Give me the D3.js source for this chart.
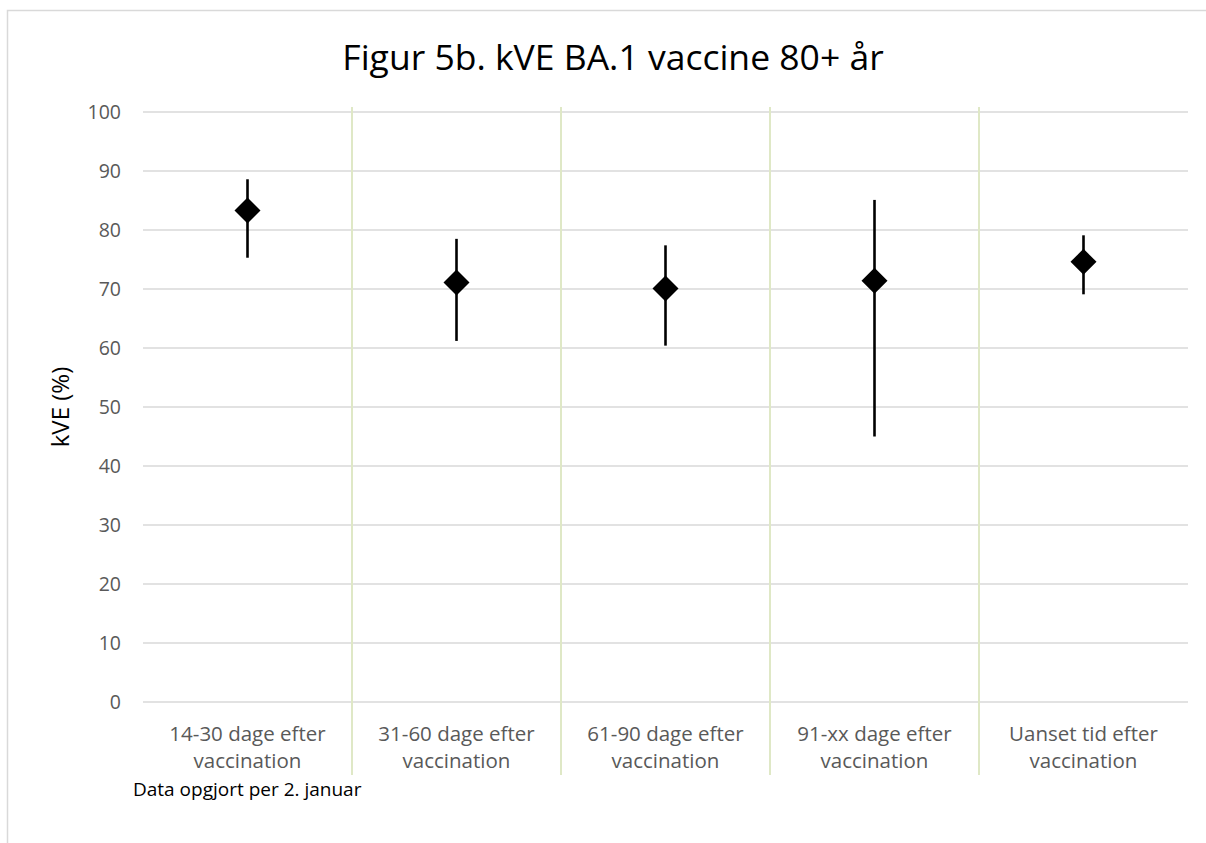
<!DOCTYPE html>
<html>
<head>
<meta charset="utf-8">
<script src="https://cdn.jsdelivr.net/npm/d3@7"></script>
<style>
  body { margin: 0; background: #ffffff; }
  text { font-family: "Open Sans", "Noto Sans", sans-serif; }
</style>
</head>
<body>
<script>
var SVG_WIDTH = 1206;
var SVG_HEIGHT = 843;

// chart data
var categories = [
  ["14-30 dage efter", "vaccination"],
  ["31-60 dage efter", "vaccination"],
  ["61-90 dage efter", "vaccination"],
  ["91-xx dage efter", "vaccination"],
  ["Uanset tid efter", "vaccination"]
];
var kve_values = [83.3, 71.1, 70.1, 71.4, 74.6];
var kve_lower = [75.3, 61.2, 60.4, 45.0, 69.1];
var kve_upper = [88.6, 78.5, 77.4, 85.1, 79.1];
var y_ticks = [0, 10, 20, 30, 40, 50, 60, 70, 80, 90, 100];

var title_text = "Figur 5b. kVE BA.1 vaccine 80+ år";
var y_title = "kVE (%)";
var note_text = "Data opgjort per 2. januar";

var plot_left = 143, plot_right = 1188, plot_top = 112, plot_bottom = 702;

var svg = d3.select("body").append("svg")
  .attr("width", SVG_WIDTH)
  .attr("height", SVG_HEIGHT);

// outer chart frame
svg.append("rect")
  .attr("x", 7.5).attr("y", 10.5)
  .attr("width", 1220).attr("height", 860)
  .style("fill", "none")
  .style("stroke", "#d9d9d9")
  .style("stroke-width", 1.5);

var x = d3.scaleBand()
  .domain(d3.range(categories.length))
  .range([plot_left, plot_right])
  .padding(0);

var y = d3.scaleLinear()
  .domain([0, 100])
  .range([plot_bottom, plot_top]);

// horizontal gridlines
svg.append("g").selectAll("line")
  .data(y_ticks).enter()
  .append("line")
    .attr("x1", plot_left).attr("x2", plot_right)
    .attr("y1", function (d) { return y(d); })
    .attr("y2", function (d) { return y(d); })
    .style("stroke", "#d9d9d9")
    .style("stroke-width", 1.5);

// vertical category dividers
svg.append("g").selectAll("line")
  .data(d3.range(1, categories.length)).enter()
  .append("line")
    .attr("x1", function (d) { return x(d); })
    .attr("x2", function (d) { return x(d); })
    .attr("y1", plot_top - 5)
    .attr("y2", plot_bottom + 73)
    .style("stroke", "#dfe8c6")
    .style("stroke-width", 2);

// y axis labels
var y_axis = svg.append("g")
  .attr("transform", "translate(" + (plot_left - 22) + ",0)")
  .call(d3.axisLeft(y).tickValues(y_ticks).tickSize(0).tickPadding(0));
y_axis.select(".domain").remove();
y_axis.selectAll("text")
  .style("font-family", "'Open Sans', sans-serif")
  .style("font-size", "19.5px")
  .style("fill", "#595959");

// category labels
var cat_labels = svg.append("g").selectAll("text")
  .data(categories).enter()
  .append("text")
    .attr("x", function (d, i) { return x(i) + x.bandwidth() / 2; })
    .attr("y", 741)
    .attr("text-anchor", "middle")
    .style("font-size", "20.5px")
    .style("fill", "#595959");
cat_labels.selectAll("tspan")
  .data(function (d) { return d; }).enter()
  .append("tspan")
    .attr("x", function () { return d3.select(this.parentNode).attr("x"); })
    .attr("dy", function (d, i) { return i === 0 ? 0 : 27; })
    .text(function (d) { return d; });

// error bars
svg.append("g").selectAll("line")
  .data(kve_values).enter()
  .append("line")
    .attr("x1", function (d, i) { return x(i) + x.bandwidth() / 2; })
    .attr("x2", function (d, i) { return x(i) + x.bandwidth() / 2; })
    .attr("y1", function (d, i) { return y(kve_lower[i]); })
    .attr("y2", function (d, i) { return y(kve_upper[i]); })
    .style("stroke", "#000000")
    .style("stroke-width", 2.6);

// diamond markers
svg.append("g").selectAll("path")
  .data(kve_values).enter()
  .append("path")
    .attr("d", "M0,-13L13,0L0,13L-13,0Z")
    .attr("transform", function (d, i) {
      return "translate(" + (x(i) + x.bandwidth() / 2) + "," + y(d) + ")";
    })
    .style("fill", "#000000");

// chart title
svg.append("text")
  .attr("x", 613).attr("y", 70)
  .attr("text-anchor", "middle")
  .style("font-size", "35.5px")
  .style("fill", "#000000")
  .text(title_text);

// y axis title
svg.append("text")
  .attr("transform", "translate(69,407) rotate(-90)")
  .attr("text-anchor", "middle")
  .style("font-size", "24px")
  .style("fill", "#000000")
  .text(y_title);

// footnote
svg.append("text")
  .attr("x", 133).attr("y", 796)
  .style("font-size", "19px")
  .style("fill", "#000000")
  .text(note_text);
</script>
</body>
</html>
